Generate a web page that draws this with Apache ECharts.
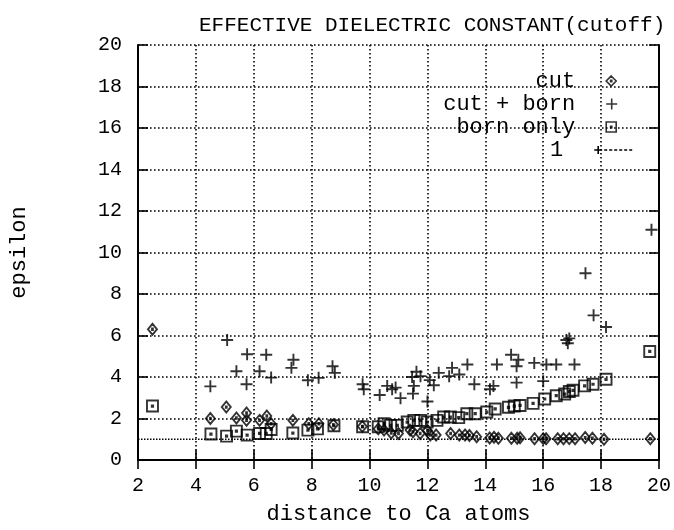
<!DOCTYPE html>
<html>
<head>
<meta charset="utf-8">
<script src="https://cdn.jsdelivr.net/npm/echarts@6/dist/echarts.min.js"></script>
<style>
  html, body { margin: 0; padding: 0; background: #fff; }
  #chart { width: 674px; height: 530px; }
</style>
</head>
<body>
<div id="chart"></div>
<script>
// Effective dielectric constant vs. distance to Ca atoms, three treatments.
const xTicks = [2, 4, 6, 8, 10, 12, 14, 16, 18, 20];
const yTicks = [0, 2, 4, 6, 8, 10, 12, 14, 16, 18, 20];

// "cut" treatment: [distance, epsilon]
const cutPoints = [
  [2.5, 6.3], [4.5, 2.0], [5.05, 2.55], [5.4, 2.02], [5.75, 2.27], [5.75, 1.91],
  [6.2, 1.91], [6.45, 2.12], [6.6, 1.75], [7.35, 1.91], [7.9, 1.75], [8.25, 1.75],
  [8.75, 1.7], [9.75, 1.62], [10.3, 1.5], [10.5, 1.44], [10.75, 1.3], [11.0, 1.28],
  [11.4, 1.44], [11.5, 1.36], [11.75, 1.28], [12.0, 1.42], [12.1, 1.2], [12.3, 1.2],
  [12.8, 1.28], [13.1, 1.2], [13.3, 1.2], [13.45, 1.18], [13.7, 1.12], [14.15, 1.06],
  [14.3, 1.1], [14.45, 1.05], [14.9, 1.05], [15.1, 1.05], [15.2, 1.07], [15.7, 1.02],
  [16.0, 1.03], [16.1, 1.02], [16.5, 1.02], [16.7, 1.02], [16.9, 1.03], [17.1, 1.02],
  [17.45, 1.08], [17.7, 1.05], [18.1, 1.0], [19.7, 1.02]
];

// "cut + born" treatment
const cutBornPoints = [
  [4.5, 3.55], [5.08, 5.78], [5.4, 4.28], [5.75, 3.65], [5.77, 5.1], [6.2, 4.28],
  [6.43, 5.07], [6.6, 3.97], [7.3, 4.44], [7.37, 4.83], [7.87, 3.84], [8.24, 3.96],
  [8.72, 4.52], [8.8, 4.2], [9.76, 3.65], [9.8, 3.41], [10.35, 3.13], [10.61, 3.57],
  [10.78, 3.41], [10.9, 3.49], [11.07, 2.98], [11.47, 4.0], [11.5, 3.2], [11.53, 3.57],
  [11.62, 4.25], [11.76, 4.04], [12.0, 2.82], [12.08, 3.85], [12.22, 3.6], [12.39, 4.2],
  [12.75, 4.04], [12.85, 4.44], [13.1, 4.12], [13.38, 4.6], [13.62, 3.65], [14.16, 3.41],
  [14.28, 3.57], [14.4, 4.6], [14.89, 5.07], [15.08, 3.73], [15.08, 4.52], [15.14, 4.83],
  [15.69, 4.68], [16.0, 3.8], [16.11, 4.6], [16.45, 4.6], [16.8, 5.78], [16.85, 5.63],
  [16.9, 5.86], [17.08, 4.6], [17.46, 9.0], [17.74, 6.97], [18.17, 6.41], [19.74, 11.1]
];

// "born only" treatment
const bornOnlyPoints = [
  [2.5, 2.6], [4.52, 1.25], [5.06, 1.15], [5.4, 1.39], [5.77, 1.2], [6.2, 1.28],
  [6.43, 1.28], [6.6, 1.47], [7.35, 1.3], [7.87, 1.44], [8.2, 1.5], [8.77, 1.65],
  [9.76, 1.6], [10.3, 1.6], [10.5, 1.75], [10.73, 1.67], [10.96, 1.67], [11.3, 1.83],
  [11.53, 1.91], [11.76, 1.91], [11.99, 1.83], [12.33, 1.91], [12.56, 2.07], [12.79, 2.07],
  [13.08, 2.04], [13.36, 2.23], [13.65, 2.23], [14.05, 2.31], [14.34, 2.46], [14.8, 2.54],
  [15.0, 2.6], [15.2, 2.63], [15.65, 2.73], [16.05, 2.94], [16.45, 3.1], [16.74, 3.18],
  [16.9, 3.3], [17.03, 3.36], [17.43, 3.57], [17.72, 3.65], [18.17, 3.89], [19.68, 5.23]
];

// Reference line epsilon = 1
const unityLine = [[2, 1], [20, 1]];

const seriesNames = ['cut', 'cut + born', 'born only', '1'];

const FONT = '"Liberation Mono", "DejaVu Sans Mono", monospace';
const INK = '#000';

const SYM_DIAMOND = 'path://M5,0 L10,5 L5,10 L0,5 Z M4.4,4.4 L5.6,4.4 L5.6,5.6 L4.4,5.6 Z';
const SYM_SQUARE = 'path://M0,0 L10,0 L10,10 L0,10 Z M4.4,4.4 L5.6,4.4 L5.6,5.6 L4.4,5.6 Z';
const SYM_PLUS = 'path://M0,6 L12,6 M6,0 L6,12';
const SYM_UNITY = 'path://M0,4 L8,4 M4,0 L4,8 M10,4 L13,4 M15,4 L18,4 M20,4 L23,4 M25,4 L28,4 M30,4 L33,4 M35,4 L38,4';

const markerStyle = { color: 'rgba(0,0,0,0)', borderColor: INK, borderWidth: 1.9 };

const gridDots = { color: '#000', width: 1.6, type: [1.6, 2.4] };

function legendItem(name, icon, top, right, w, h) {
  return {
    data: [{ name: name, icon: icon }],
    top: top,
    right: right,
    orient: 'horizontal',
    align: 'right',
    itemWidth: w,
    itemHeight: h,
    selectedMode: false,
    itemStyle: { color: 'rgba(0,0,0,0)', borderColor: INK, borderWidth: 1.6 },
    textStyle: { fontFamily: FONT, fontSize: 22, color: INK, padding: [0, 26, 0, 0] }
  };
}

const chart = echarts.init(document.getElementById('chart'), null, { renderer: 'canvas' });

chart.setOption({
  backgroundColor: '#fff',
  animation: false,
  title: {
    text: 'EFFECTIVE DIELECTRIC CONSTANT(cutoff)',
    left: 194,
    top: 10,
    textStyle: { fontFamily: FONT, fontSize: 21, fontWeight: 'normal', color: INK }
  },
  legend: [
    legendItem(seriesNames[0], SYM_DIAMOND, 65, 52, 10, 10),
    legendItem(seriesNames[1], SYM_PLUS, 88, 51, 11, 11),
    legendItem(seriesNames[2], SYM_SQUARE, 111, 52, 10, 10),
    legendItem(seriesNames[3], SYM_UNITY, 134, 36, 38, 8)
  ],
  grid: { left: 136, right: 14, top: 45, bottom: 63, containLabel: false },
  xAxis: [
    {
      type: 'value', min: xTicks[0], max: xTicks[xTicks.length - 1], interval: 2,
      position: 'bottom',
      name: 'distance to Ca atoms', nameLocation: 'middle', nameGap: 43,
      nameTextStyle: { fontFamily: FONT, fontSize: 22, color: INK },
      axisLine: { show: true, lineStyle: { color: INK, width: 2 } },
      axisTick: { show: true, inside: true, length: 10, lineStyle: { color: INK, width: 1.6 } },
      axisLabel: { fontFamily: FONT, fontSize: 20, color: INK, margin: 16 },
      splitLine: { show: true, lineStyle: gridDots }
    },
    {
      type: 'value', min: xTicks[0], max: xTicks[xTicks.length - 1], interval: 2,
      position: 'top',
      axisLine: { show: true, lineStyle: { color: INK, width: 2 } },
      axisTick: { show: true, inside: true, length: 9, lineStyle: { color: INK, width: 1.6 } },
      axisLabel: { show: false },
      splitLine: { show: false }
    }
  ],
  yAxis: [
    {
      type: 'value', min: yTicks[0], max: yTicks[yTicks.length - 1], interval: 2,
      position: 'left',
      name: 'epsilon', nameLocation: 'middle', nameGap: 108,
      nameTextStyle: { fontFamily: FONT, fontSize: 22, color: INK },
      axisLine: { show: true, lineStyle: { color: INK, width: 2 } },
      axisTick: { show: true, inside: true, length: 10, lineStyle: { color: INK, width: 1.6 } },
      axisLabel: { fontFamily: FONT, fontSize: 20, color: INK, margin: 16 },
      splitLine: { show: true, lineStyle: gridDots }
    },
    {
      type: 'value', min: yTicks[0], max: yTicks[yTicks.length - 1], interval: 2,
      position: 'right',
      axisLine: { show: true, lineStyle: { color: INK, width: 2 } },
      axisTick: { show: true, inside: true, length: 10, lineStyle: { color: INK, width: 1.6 } },
      axisLabel: { show: false },
      splitLine: { show: false }
    }
  ],
  series: [
    {
      name: seriesNames[0], type: 'scatter', data: cutPoints,
      symbol: SYM_DIAMOND, symbolSize: [9, 11], itemStyle: markerStyle,
      emphasis: { disabled: true }, z: 4
    },
    {
      name: seriesNames[1], type: 'scatter', data: cutBornPoints,
      symbol: SYM_PLUS, symbolSize: 12, itemStyle: markerStyle,
      emphasis: { disabled: true }, z: 5
    },
    {
      name: seriesNames[2], type: 'scatter', data: bornOnlyPoints,
      symbol: SYM_SQUARE, symbolSize: 11, itemStyle: markerStyle,
      emphasis: { disabled: true }, z: 3
    },
    {
      name: seriesNames[3], type: 'line', data: unityLine,
      symbol: 'none', itemStyle: markerStyle,
      lineStyle: { color: INK, width: 1.5, type: [1.5, 1.5] },
      emphasis: { disabled: true }, z: 2
    }
  ]
});
</script>
</body>
</html>
